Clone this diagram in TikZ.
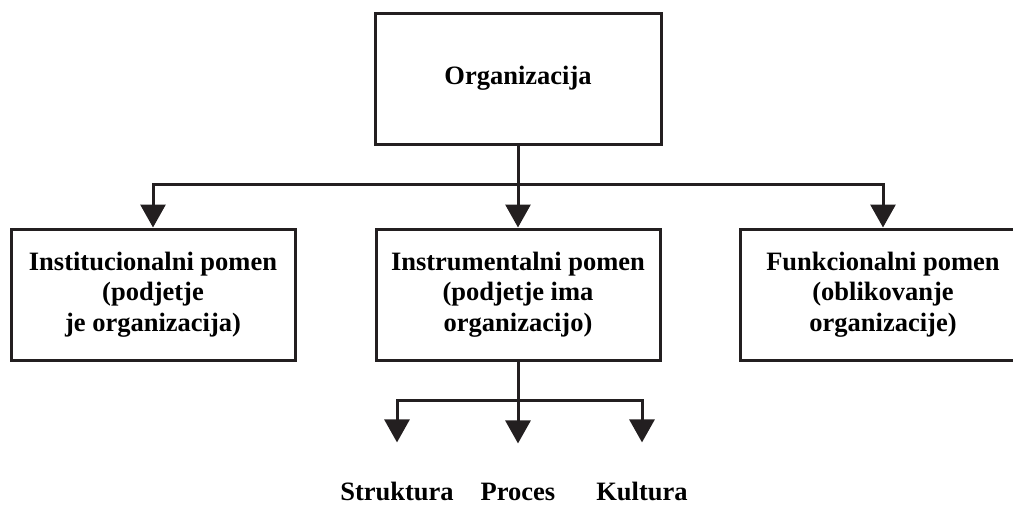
\documentclass[tikz,border=0pt]{standalone}
\usepackage{fontspec}
\setmainfont{Liberation Serif}
\usetikzlibrary{arrows.meta, positioning}
\definecolor{mydark}{RGB}{35,31,32}
\tikzset{
  box/.style={rectangle, draw=mydark, line width=3pt, fill=white,
    minimum width=285pt, minimum height=131pt, align=center,
    inner sep=0pt, font=\fontsize{26.5}{30.5}\selectfont\bfseries},
  leaf/.style={anchor=base, inner sep=0pt,
    font=\fontsize{26.5}{30.5}\selectfont\bfseries},
  arrow/.style={-{Triangle[width=25pt,length=23pt]}, line width=3pt, color=mydark},
  line/.style={line width=3pt, color=mydark}
}

\begin{document}
\begin{tikzpicture}[x=1pt, y=-1pt]
  \useasboundingbox (0,0) rectangle (1013,504);
  \clip (0,0) rectangle (1013,504);

  % Top box
  \node[box, minimum width=286pt] (org) at (518,78.5) {Organizacija};

  % Three meanings
  \node[box, minimum width=284pt] (inst) at (153,294.5) {Institucionalni pomen\\(podjetje\\je organizacija)};
  \node[box, minimum width=284pt] (instr) at (518,294.5) {Instrumentalni pomen\\(podjetje ima\\organizacijo)};
  \node[box, minimum width=286pt] (func) at (883,294.5) {Funkcionalni pomen\\(oblikovanje\\organizacije)};

  % Bottom labels
  \node[leaf] (struk) at (397,500) {Struktura};
  \node[leaf] (proc) at (518,500) {Proces};
  \node[leaf] (kult) at (642,500) {Kultura};

  % Connectors from the top box
  \coordinate (split) at (518,184);
  \draw[line] (org.south) -- (split);
  \draw[arrow] (split) -| (inst.north);
  \draw[arrow] (split) -- (instr.north);
  \draw[arrow] (split) -| (func.north);

  % Connectors below the middle box
  \coordinate (split2) at (518,400);
  \draw[line] (instr.south) -- (split2);
  \draw[arrow, shorten >=39pt] (split2) -| (struk.north);
  \draw[arrow, shorten >=39pt] (split2) -- (proc.north);
  \draw[arrow, shorten >=39pt] (split2) -| (kult.north);
\end{tikzpicture}
\end{document}
